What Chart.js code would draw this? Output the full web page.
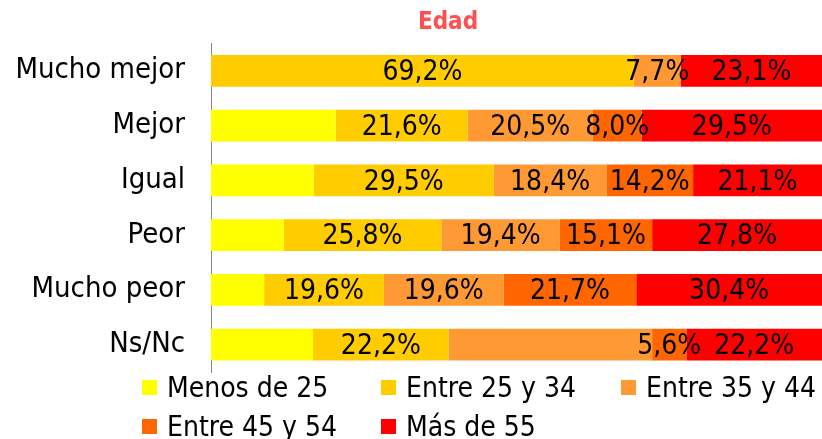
<!DOCTYPE html>
<html>
<head>
<meta charset="utf-8">
<script src="https://cdn.jsdelivr.net/npm/chart.js@4.4.0/dist/chart.umd.min.js"></script>
<style>
  body { margin: 0; background: #fff; }
  #wrap { position: relative; width: 822px; height: 439px; }
  #legend { position: absolute; left: 142px; top: 368px; width: 680px;
    display: grid; grid-template-columns: 239px 240px 200px; grid-auto-rows: 39px;
    font-family: "DejaVu Sans Condensed", "DejaVu Sans", sans-serif; font-size: 28px; color: #000; }
  #legend div { display: flex; align-items: center; white-space: nowrap; }
  #legend span.box { width: 15px; height: 15px; margin-right: 10px; flex: none; }
</style>
</head>
<body>
<div id="wrap">
  <canvas id="chart" width="822" height="439"></canvas>
  <div id="legend"></div>
</div>
<script>
const categories = ["Mucho mejor", "Mejor", "Igual", "Peor", "Mucho peor", "Ns/Nc"];
const seriesNames = ["Menos de 25", "Entre 25 y 34", "Entre 35 y 44", "Entre 45 y 54", "Más de 55"];
const menos25 = [0, 20.4, 16.8, 11.9, 8.7, 16.7];
const entre25y34 = [69.2, 21.6, 29.5, 25.8, 19.6, 22.2];
const entre35y44 = [7.7, 20.5, 18.4, 19.4, 19.6, 33.3];
const entre45y54 = [0, 8.0, 14.2, 15.1, 21.7, 5.6];
const mas55 = [23.1, 29.5, 21.1, 27.8, 30.4, 22.2];
const colors = ["#FFFF00", "#FFCC00", "#FF9933", "#FF6600", "#FF0000"];

// labels that are not shown in the original
const unlabeledSeries = ["Menos de 25"];
const unlabeledCells = { "Ns/Nc": ["Entre 35 y 44"] };

const FONT = '"DejaVu Sans Condensed", "DejaVu Sans", sans-serif';

const allValues = [menos25, entre25y34, entre35y44, entre45y54, mas55];

// Draw value labels in the middle of each segment
const segmentLabels = {
  id: "segmentLabels",
  afterDatasetsDraw(chart) {
    const ctx = chart.ctx;
    ctx.save();
    ctx.font = "28px " + FONT;
    ctx.fillStyle = "#000";
    ctx.textAlign = "center";
    ctx.textBaseline = "middle";
    chart.data.datasets.forEach((ds, i) => {
      if (unlabeledSeries.includes(ds.label)) return;
      chart.getDatasetMeta(i).data.forEach((bar, j) => {
        const v = ds.data[j];
        if (!v) return;
        const skip = unlabeledCells[categories[j]];
        if (skip && skip.includes(ds.label)) return;
        const x = (bar.x + bar.base) / 2;
        ctx.fillText(v.toFixed(1).replace(".", ",") + "%", x, bar.y + 2);
      });
    });
    ctx.restore();
  },
};

// Title drawn above the plot
const titleText = {
  id: "titleText",
  afterDraw(chart) {
    const ctx = chart.ctx;
    ctx.save();
    ctx.font = "bold 24px " + FONT;
    ctx.fillStyle = "#FF5050";
    ctx.textAlign = "center";
    ctx.textBaseline = "middle";
    ctx.fillText("Edad", 448, 23);
    ctx.restore();
  },
};

new Chart(document.querySelector("#chart").getContext("2d"), {
  type: "bar",
  data: {
    labels: categories,
    datasets: seriesNames.map((name, i) => ({
      label: name,
      data: allValues[i],
      backgroundColor: colors[i],
      borderWidth: 0,
      categoryPercentage: 1,
      barPercentage: 0.58,
    })),
  },
  options: {
    indexAxis: "y",
    responsive: false,
    animation: false,
    layout: { padding: { top: 42, bottom: 67, right: 0, left: 0 } },
    plugins: {
      legend: { display: false },
      tooltip: { enabled: false },
      title: { display: false },
    },
    scales: {
      x: { stacked: true, min: 0, max: 100, display: false },
      y: {
        stacked: true,
        afterFit: (s) => { s.width = 211; },
        grid: { display: false, drawTicks: false },
        border: { display: true, color: "#888888", width: 1 },
        ticks: { color: "#000", padding: 26, font: { family: FONT, size: 29 } },
      },
    },
  },
  plugins: [segmentLabels, titleText],
});

// HTML legend built from the series
const legend = document.querySelector("#legend");
seriesNames.forEach((name, i) => {
  const item = document.createElement("div");
  item.innerHTML = '<span class="box" style="background:' + colors[i] + '"></span>' + name;
  legend.appendChild(item);
});
</script>
</body>
</html>
